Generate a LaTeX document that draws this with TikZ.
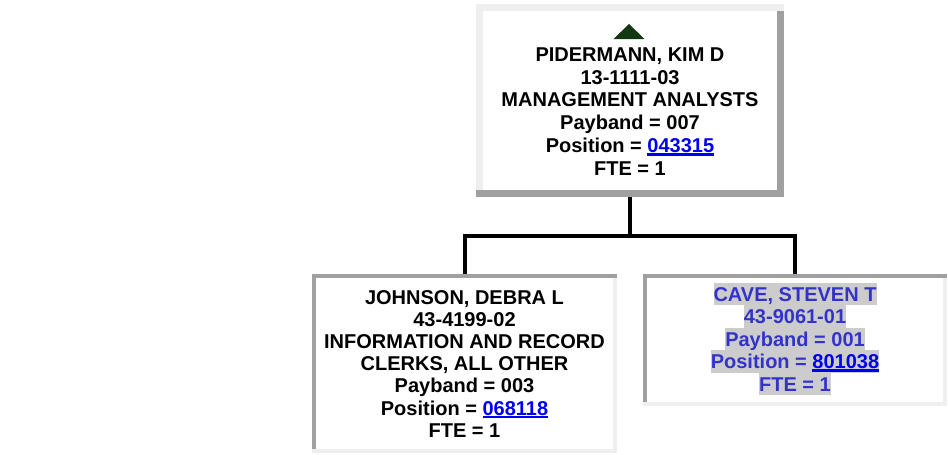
\documentclass[tikz,border=0pt]{standalone}
\usepackage{fontspec}
\setmainfont{Liberation Sans}
\usetikzlibrary{calc}
\definecolor{lightb}{HTML}{EFEFEF}
\definecolor{darkb}{HTML}{A0A0A0}
\definecolor{linkblue}{HTML}{0000EE}
\definecolor{cavetext}{HTML}{3333CC}
\definecolor{hlgray}{HTML}{CCCCCC}
\definecolor{arrowgreen}{HTML}{123812}
\newcommand\poslnk[1]{{\color{linkblue}\setbox0\hbox{#1}\rlap{\rule[-2.4pt]{\wd0}{1.7pt}}\box0}}
\newcommand\outsetframe[2]{%
  \fill[lightb] (#1.north west) rectangle ($(#1.north east)+(0,#2)$);
  \fill[darkb] (#1.south west) rectangle ($(#1.south east)+(0,-#2)$);
  \fill[lightb] ($(#1.north west)+(0,#2)$) rectangle ($(#1.south west)+(#2,-#2)$);
  \fill[darkb] ($(#1.north east)+(-#2,#2)$) rectangle ($(#1.south east)+(0,-#2)$);}
\newcommand\insetframe[2]{%
  \fill[darkb] (#1.north west) rectangle ($(#1.north east)+(0,#2)$);
  \fill[lightb] (#1.south west) rectangle ($(#1.south east)+(0,-#2)$);
  \fill[darkb] ($(#1.north west)+(0,#2)$) rectangle ($(#1.south west)+(#2,-#2)$);
  \fill[lightb] ($(#1.north east)+(-#2,#2)$) rectangle ($(#1.south east)+(0,-#2)$);}
\begin{document}
\begin{tikzpicture}[x=0.75pt,y=-0.75pt,
  card/.style={rectangle, fill=white, draw=none, inner sep=0pt},
  txt/.style={anchor=base, inner sep=0pt, font=\fontsize{15}{17}\selectfont\bfseries},
  hltxt/.style={txt, text=cavetext, fill=hlgray, text height=13.6pt, text depth=3.3pt},
  conn/.style={draw=black, line width=3pt}]
\useasboundingbox (0,0) rectangle (948,454);
\fill[white] (0,0) rectangle (948,454);

% boxes
\node[card, minimum width=231pt, minimum height=144.75pt] (T) at (630,100.5) {};
\node[card, minimum width=228.75pt, minimum height=134.25pt] (L) at (464.5,363.5) {};
\node[card, minimum width=228pt, minimum height=99pt] (R) at (795,340) {};
\outsetframe{T}{7.5}
\insetframe{L}{3.8}
\insetframe{R}{3.8}

% connectors
\coordinate (bus) at (630,236);
\draw[conn] (T.south) -- (bus);
\draw[conn] (L.north) |- (bus) -| (R.north);

% top box content
\fill[arrowgreen] (629,24) -- (644.5,39) -- (613.5,39) -- cycle;
\node[txt] (t1) at (630,61.5) {PIDERMANN, KIM D};
\node[txt] (t2) at (630,84.2) {13-1111-03};
\node[txt] (t3) at (630,106.9) {MANAGEMENT ANALYSTS};
\node[txt] (t4) at (630,129.6) {Payband = 007};
\node[txt] (t5) at (630,152.3) {Position = \poslnk{043315}};
\node[txt] (t6) at (630,175) {FTE = 1};

% left box content
\node[txt] (l1) at (464.5,304) {JOHNSON, DEBRA L};
\node[txt] (l2) at (464.5,326.2) {43-4199-02};
\node[txt] (l3) at (464.5,348.4) {INFORMATION AND RECORD};
\node[txt] (l4) at (464.5,370.6) {CLERKS, ALL OTHER};
\node[txt] (l5) at (464.5,392.8) {Payband = 003};
\node[txt] (l6) at (464.5,415) {Position = \poslnk{068118}};
\node[txt] (l7) at (464.5,437.2) {FTE = 1};

% right box content
\node[hltxt] (r1) at (795,301) {CAVE, STEVEN T};
\node[hltxt] (r2) at (795,323.5) {43-9061-01};
\node[hltxt] (r3) at (795,346) {Payband = 001};
\node[hltxt] (r4) at (795,368.5) {Position = \poslnk{801038}};
\node[hltxt] (r5) at (795,391) {FTE = 1};
\end{tikzpicture}
\end{document}
